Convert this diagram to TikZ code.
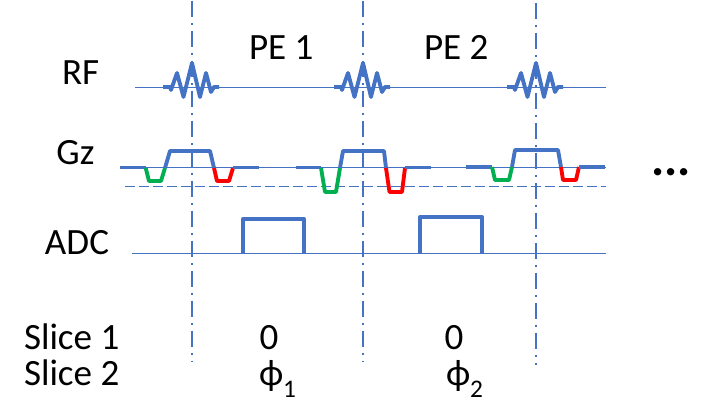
\documentclass[tikz,border=0pt]{standalone}
\usepackage{fontspec}
\setmainfont{Carlito}
\definecolor{wave}{HTML}{4472C4}
\definecolor{gpos}{HTML}{00B050}
\definecolor{gneg}{HTML}{FF0000}
\newcommand{\lbl}[4]{\node[lab] (#1) at (#2,420-#3) {#4};}
\newcommand{\sbs}[1]{\raisebox{-0.3em}{\fontsize{19}{20}\selectfont #1}}
\newcommand{\rfp}[1]{\draw[thick wave] ({#1-29},333) -- ({#1-22},333) -- ({#1-21},330) -- ({#1-15},347) -- ({#1-8.5},323) -- (#1,357) -- ({#1+8},323) -- ({#1+14},347) -- ({#1+19},328) -- ({#1+22},333) -- ({#1+27},333);}
\tikzset{
  x=0.75pt,y=0.75pt,
  lab/.style={anchor=base west,inner sep=0pt,outer sep=0pt,font=\fontsize{27.8}{30}\selectfont,text=black},
  thin wave/.style={draw=wave,line width=0.85pt},
  thick wave/.style={draw=wave,line width=2.9pt,line join=round},
  gp/.style={draw=gpos,line width=2.9pt,line join=round},
  gn/.style={draw=gneg,line width=2.9pt,line join=round},
  axis/.style={draw=wave,line width=1.4pt,dash pattern=on 12pt off 4.5pt on 1.5pt off 4.5pt},
  slice/.style={draw=wave,line width=0.8pt,dash pattern=on 7.5pt off 3pt},
}
\begin{document}
\begin{tikzpicture}
\useasboundingbox (0,0) rectangle (726,420);
% baselines
\draw[thin wave] (135,332.5) -- (606,332.5);
\draw[thin wave] (120,252.5) -- (606,252.5);
\draw[slice] (125,233.5) -- (606,233.5);
\draw[thin wave] (132,166.5) -- (606,166.5);
% time axes
\draw[axis] (192,419.3) -- (192,58);
\draw[axis] (363,419.3) -- (363,58);
\draw[axis] (536,417) -- (536,55);
% RF
\rfp{192}
\rfp{363}
\rfp{536}
% Gz 1
\draw[thick wave] (120,252.5) -- (145.7,252.5);
\draw[gp] (145.7,252) -- (149,239) -- (161,239) -- (165,252);
\draw[thick wave] (165,252) -- (170,269) -- (210,269) -- (214,252);
\draw[gn] (214,252) -- (217,239) -- (229,239) -- (233,252);
\draw[thick wave] (233,252.5) -- (259,252.5);
% Gz 2
\draw[thick wave] (296,252.5) -- (321,252.5);
\draw[gp] (321,252) -- (325,228) -- (336,228) -- (340,252);
\draw[thick wave] (340,252) -- (343,269) -- (384,269) -- (386,252);
\draw[gn] (386,252) -- (389.5,228) -- (402,228) -- (405,252);
\draw[thick wave] (405,252.5) -- (431,252.5);
% Gz 3
\draw[thick wave] (466,253) -- (492,253);
\draw[gp] (492,253) -- (495,240) -- (509,240) -- (512,253);
\draw[thick wave] (512,253) -- (515,270) -- (558,270) -- (561,253);
\draw[gn] (561,253) -- (563,240) -- (576,240) -- (579,253);
\draw[thick wave] (579,253) -- (605,253);
% ADC
\draw[thick wave] (243,166.5) -- (243,201) -- (304,201) -- (304,166.5);
\draw[thick wave] (420,166.5) -- (420,203) -- (482,203) -- (482,166.5);
% labels
\lbl{pea}{249}{60}{PE 1}
\lbl{peb}{424}{60}{PE 2}
\lbl{rf}{62}{85}{RF}
\lbl{gz}{56.5}{165}{Gz}
\lbl{adc}{45}{255}{ADC}
\lbl{sa}{24}{350}{Slice 1}
\lbl{sb}{24}{386}{Slice 2}
\lbl{za}{259.5}{349.5}{0}
\lbl{zb}{444.5}{349.5}{0}
\lbl{pa}{259}{386}{ϕ\sbs{1}}
\lbl{pb}{446}{386}{ϕ\sbs{2}}
\node[lab,font=\fontsize{37}{40}\selectfont\bfseries] (more) at (651,420-176) {...};
\end{tikzpicture}
\end{document}
